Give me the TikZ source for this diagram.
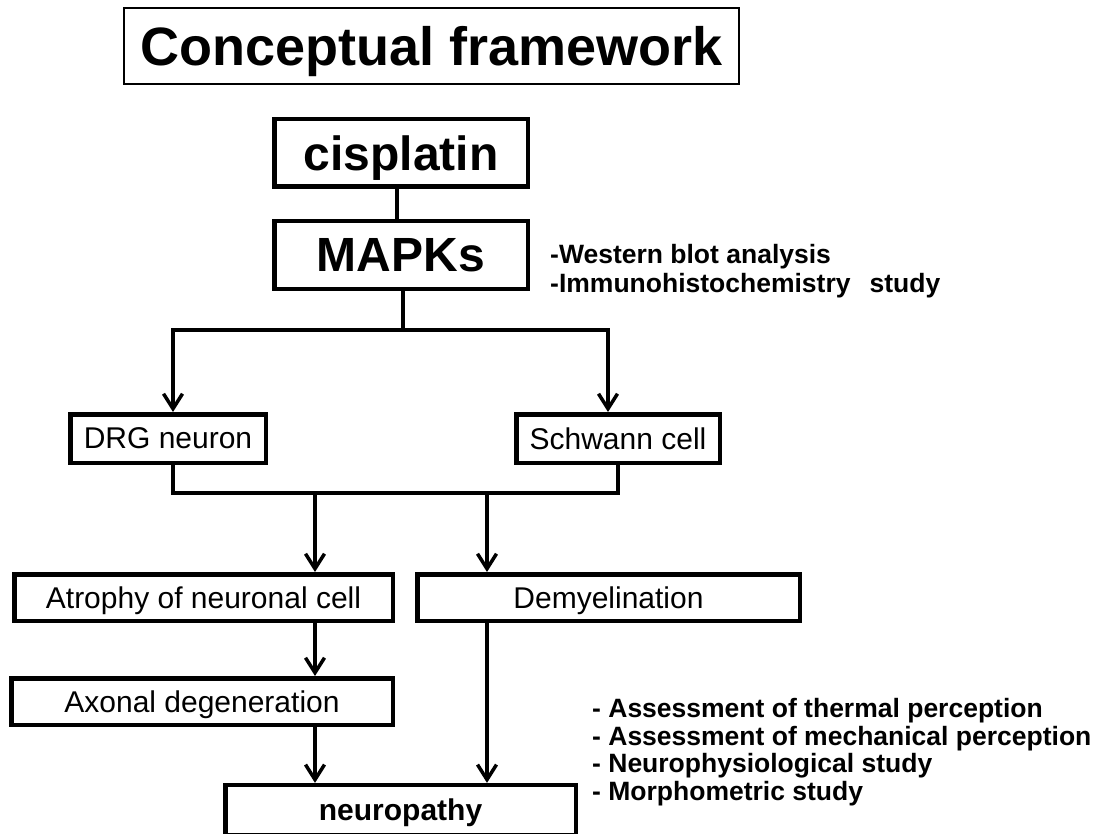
\documentclass[tikz,border=0pt]{standalone}
\usepackage{fontspec}
\setmainfont{Liberation Sans}
\usetikzlibrary{arrows.meta}

\begin{document}
\begin{tikzpicture}[x=1pt, y=-1pt,
    cellbox/.style={draw, line width=4.5pt, inner sep=0pt, text depth=0pt, font=\fontsize{30}{36}\selectfont},
    bigbox/.style={cellbox, font=\bfseries\fontsize{48}{56}\selectfont},
    conn/.style={line width=3.5pt},
    flow/.style={conn, -{Straight Barb[length=15pt, width=19pt]}},
    note/.style={anchor=base west, inner sep=0pt, font=\bfseries\fontsize{26.5}{30}\selectfont}]
    \useasboundingbox[fill=white] (0,0) rectangle (1105,834);

    % title
    \node[draw, line width=1.6pt, minimum width=615pt, minimum height=76pt, inner sep=0pt, text depth=0pt,
          font=\bfseries\fontsize{54}{60}\selectfont] (title) at (431.5,46) {Conceptual framework};

    % boxes
    \node[bigbox, minimum width=253.5pt, minimum height=67.5pt] (cis) at (401,153) {cisplatin};
    \node[bigbox, minimum width=253.5pt, minimum height=67.5pt] (mapk) at (401,255) {MAPKs};
    \node[cellbox, minimum width=195.5pt, minimum height=48.5pt] (drg) at (168,438.5) {DRG neuron};
    \node[cellbox, minimum width=203.5pt, minimum height=48.5pt] (schwann) at (618,438.5) {Schwann cell};
    \node[cellbox, minimum width=378.5pt, minimum height=46.5pt] (atrophy) at (203.5,597.5) {Atrophy of neuronal cell};
    \node[cellbox, minimum width=382.5pt, minimum height=46.5pt] (demyel) at (608.5,597.5) {Demyelination};
    \node[cellbox, minimum width=381.5pt, minimum height=46.5pt] (axonal) at (202,701.5) {Axonal degeneration};
    \node[cellbox, font=\bfseries\fontsize{30}{36}\selectfont, minimum width=350.5pt,
          minimum height=49.75pt] (neuro) at (400.5,810) {neuropathy};

    % branch points
    \coordinate (split) at (403,330);
    \coordinate (mergeL) at (315,493);
    \coordinate (mergeR) at (487,493);

    % connectors
    \draw[conn] ([xshift=-4pt]cis.south) -- ([xshift=-4pt]mapk.north);
    \draw[conn] (mapk.south -| split) -- (split);
    \draw[flow] (split) -| ([xshift=5pt]drg.north);
    \draw[flow] (split) -| ([xshift=-10pt]schwann.north);
    \draw[conn] ([xshift=5pt]drg.south) |- (mergeL) -- (mergeR) -| (schwann.south);
    \draw[flow] (mergeL) -- (mergeL |- atrophy.north);
    \draw[flow] (mergeR) -- (mergeR |- demyel.north);
    \draw[flow] (mergeL |- atrophy.south) -- (mergeL |- axonal.north);
    \draw[flow] (mergeL |- axonal.south) -- (mergeL |- neuro.north);
    \draw[flow] (mergeR |- demyel.south) -- (mergeR |- neuro.north);

    % methods
    \node[note] (wb) at (550,264) {-Western blot analysis};
    \node[note] (ihc) at (550,292) {-Immunohistochemistry\hspace{19pt}study};
    \node[note] (thermal) at (592,717) {- Assessment of thermal perception};
    \node[note] (mech) at (592,745) {- Assessment of mechanical perception};
    \node[note] (nphys) at (592,772.5) {- Neurophysiological study};
    \node[note] (morph) at (592,800) {- Morphometric study};
\end{tikzpicture}
\end{document}
